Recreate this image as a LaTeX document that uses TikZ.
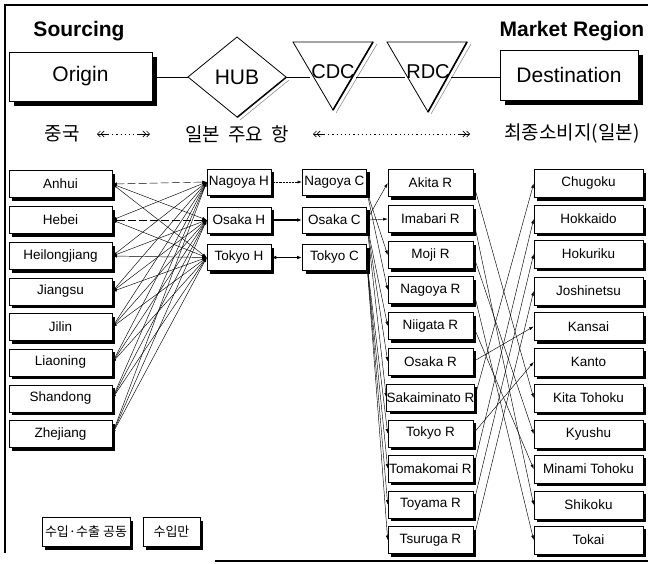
\documentclass[tikz,border=0pt]{standalone}
\usepackage{fontspec}
\setmainfont{Liberation Sans}
\newfontfamily\kr{Noto Sans CJK KR}
\usetikzlibrary{arrows.meta,shadows,calc}
\tikzset{dbarb/.tip={Straight Barb[length=3pt,width=6pt] Straight Barb[length=3pt,width=6pt]}}
\begin{document}
\begin{tikzpicture}[x=1pt,y=-1pt,
  box/.style={draw, fill=white, line width=0.6pt, inner sep=0pt, minimum height=27pt,
    font=\fontsize{13.5}{15}\selectfont,
    drop shadow={shadow xshift=3pt, shadow yshift=-3pt, fill=black, opacity=1}},
  bigbox/.style={draw, fill=white, line width=0.8pt, inner sep=0pt,
    font=\fontsize{21}{24}\selectfont,
    drop shadow={shadow xshift=4.5pt, shadow yshift=-4.5pt, fill=black, opacity=1}},
  obox/.style={box, minimum width=103pt},
  hbox/.style={box, minimum width=64pt, minimum height=26pt},
  rbox/.style={box, minimum width=85pt},
  dbox/.style={box, minimum width=109pt, minimum height=28pt},
  lbox/.style={box, minimum height=29pt, font=\kr\fontsize{13}{15}\selectfont},
  title/.style={font=\bfseries\fontsize{21}{24}\selectfont},
  krtext/.style={font=\kr\fontsize{19}{22}\selectfont},
  link/.style={line width=0.45pt, {Latex[length=4.5pt,width=3pt]}-{Latex[length=4.5pt,width=3pt]}},
  flow/.style={line width=0.45pt, -{Latex[length=4.5pt,width=3pt]}},
]
\useasboundingbox (0,0) rectangle (648,563);
% frame
\draw[line width=1.4pt] (5,553) -- (5,5) -- (648,5);
\draw[line width=1.4pt] (215,561) -- (648,561);

% titles
\node[title] (src) at (79,31) {Sourcing};
\node[title] (mkt) at (572,31) {Market Region};

% top chain
\node[bigbox, minimum width=143pt, minimum height=49pt] (origin) at (80.5,76.5) {Origin};
\node[bigbox, minimum width=138pt, minimum height=50pt] (dest) at (569,75) {Destination};
\coordinate (hubL) at (188,77);
\coordinate (hubR) at (286,77);
\draw[line width=2.2pt] (hubR) -- (237,117);
\draw[gray, line width=0.5pt] (289,80) -- (240,120);
\draw[line width=0.8pt, fill=white] (hubL) -- (237,37) -- (hubR) -- (237,117) -- cycle;
\node[font=\fontsize{21}{24}\selectfont] (hub) at (237,77) {HUB};
% CDC triangle
\draw[gray, line width=0.5pt] (377,44) -- (336,113);
\draw[line width=0.8pt] (293,42) -- (373,42) -- (333,110) -- cycle;
\draw[line width=1.6pt] (373,42) -- (333,110);
\node[font=\fontsize{20}{24}\selectfont, inner sep=1pt] (cdc) at (333,72) {CDC};
% RDC triangle
\draw[gray, line width=0.5pt] (471,44) -- (431,114);
\draw[line width=0.8pt] (387,42) -- (467,42) -- (428,112) -- cycle;
\draw[line width=1.6pt] (467,42) -- (428,112);
\node[font=\fontsize{20}{24}\selectfont, inner sep=1pt] (rdc) at (428,72) {RDC};
\draw[line width=0.8pt] (origin.east |- hubL) -- (hubL);
\draw[line width=0.8pt] (hubR) -- (cdc.west |- hubR);
\draw[line width=0.8pt] (cdc.east |- hubR) -- (rdc.west |- hubR);
\draw[line width=0.8pt] (rdc.east |- hubR) -- (dest.west |- hubR);

% korean row
\node[krtext] (cn) at (62,134) {중국};
\node[krtext] (jp) at (237,134) {일본\hspace{8pt}주요\hspace{8pt}항};
\node[krtext] (fin) at (572,134) {최종소비지(일본)};
\coordinate (a1) at (97,134); \coordinate (a2) at (150,134);
\draw[line width=0.7pt, dash pattern=on 1.2pt off 3pt] ($(a1)+(11,0)$) -- ($(a2)+(-11,0)$);
\draw[line width=0.6pt, {dbarb}-] (a1) -- ($(a1)+(11,0)$);
\draw[line width=0.6pt, -{dbarb}] ($(a2)+(-11,0)$) -- (a2);
\coordinate (b1) at (313,134); \coordinate (b2) at (470,134);
\draw[line width=0.7pt, dash pattern=on 1.2pt off 3pt] ($(b1)+(11,0)$) -- ($(b2)+(-11,0)$);
\draw[line width=0.6pt, {dbarb}-] (b1) -- ($(b1)+(11,0)$);
\draw[line width=0.6pt, -{dbarb}] ($(b2)+(-11,0)$) -- (b2);

% origins
\node[obox] (anh) at (60.5,184) {Anhui};
\node[obox] (heb) at (60.5,220) {Hebei};
\node[obox] (hei) at (60.5,256) {Heilongjiang};
\node[obox] (jia) at (60.5,291.5) {Jiangsu};
\node[obox] (jil) at (60.5,327) {Jilin};
\node[obox] (lia) at (60.5,362.5) {Liaoning};
\node[obox] (sha) at (60.5,398.5) {Shandong};
\node[obox] (zhe) at (60.5,434) {Zhejiang};

% hubs
\node[hbox] (nH) at (239,182) {Nagoya H};
\node[hbox] (oH) at (239,220) {Osaka H};
\node[hbox] (tH) at (239,257.5) {Tokyo H};
% CDCs
\node[hbox] (nC) at (334.5,182) {Nagoya C};
\node[hbox] (oC) at (334.5,220) {Osaka C};
\node[hbox] (tC) at (334.5,257.5) {Tokyo C};

% RDCs
\node[rbox] (akR) at (430.5,183) {Akita R};
\node[rbox] (imR) at (430.5,219) {Imabari R};
\node[rbox] (moR) at (430.5,255) {Moji R};
\node[rbox] (naR) at (430.5,290) {Nagoya R};
\node[rbox] (niR) at (430.5,326) {Niigata R};
\node[rbox] (osR) at (430.5,361.5) {Osaka R};
\node[rbox] (saR) at (430.5,397.5) {Sakaiminato R};
\node[rbox] (toR) at (430.5,433.5) {Tokyo R};
\node[rbox] (tmR) at (430.5,468.5) {Tomakomai R};
\node[rbox] (tyR) at (430.5,504.5) {Toyama R};
\node[rbox] (tsR) at (430.5,540) {Tsuruga R};

% destinations
\node[dbox] (chu) at (588.5,183.5) {Chugoku};
\node[dbox] (hok) at (588.5,219) {Hokkaido};
\node[dbox] (hku) at (588.5,254) {Hokuriku};
\node[dbox] (jos) at (588.5,291) {Joshinetsu};
\node[dbox] (kns) at (588.5,326.5) {Kansai};
\node[dbox] (knt) at (588.5,362) {Kanto};
\node[dbox] (kit) at (588.5,398) {Kita Tohoku};
\node[dbox] (kyu) at (588.5,434) {Kyushu};
\node[dbox] (min) at (588.5,469) {Minami Tohoku};
\node[dbox] (shi) at (588.5,505) {Shikoku};
\node[dbox] (tok) at (588.5,540) {Tokai};

% legend
\node[lbox, minimum width=88pt] (leg1) at (86,532) {수입·수출 공동};
\node[lbox, minimum width=57pt] (leg2) at (171.5,532) {수입만};

% origin <-> hub
\draw[link, dash pattern=on 8pt off 3pt] (anh.east) -- (nH.west);
\draw[link] (anh.east) -- (oH.west);
\draw[link] (anh.east) -- (tH.west);
\draw[link] (heb.east) -- (nH.west);
\draw[link, dash pattern=on 8pt off 3pt] (heb.east) -- (oH.west);
\draw[link] (heb.east) -- (tH.west);
\foreach \o in {hei,jia,jil,lia,sha,zhe}{
  \foreach \h in {nH,oH,tH}{
    \draw[link] (\o.east) -- (\h.west);
  }
}

% hub -> cdc
\draw[flow, densely dotted, line width=0.8pt] (nH.east) -- (nC.west);
\draw[line width=1.1pt, -{Latex[length=5pt,width=3.5pt]}] (oH.east) -- (oC.west);
\draw[line width=1.1pt, {Latex[length=5pt,width=3.5pt]}-{Latex[length=5pt,width=3.5pt]}] (tH.east) -- (tC.west);

% cdc -> rdc
\coordinate (nCo) at ($(nC.east)!0.7!(nC.south east)$);
\coordinate (oCo) at ($(oC.east)!0.3!(oC.south east)$);
\coordinate (tCo) at ($(tC.east)!0.3!(tC.south east)$);
\draw[flow] (nCo) -- (moR.west);
\draw[flow] (nCo) -- (naR.west);
\draw[flow] (oC.east) -- (akR.west);
\draw[flow] (oC.east) -- (imR.west);
\draw[flow] (oCo) -- (niR.west);
\draw[flow] (oCo) -- (osR.west);
\draw[flow] (oCo) -- (saR.west);
\draw[flow] (tCo) -- (toR.west);
\draw[flow] (tCo) -- (tmR.west);
\draw[flow] (tCo) -- (tyR.west);
\draw[flow] (tCo) -- (tsR.west);

% rdc -> destination
\draw[flow] (akR.east) -- (kit.west);
\draw[flow] (imR.east) -- (shi.west);
\draw[flow] (moR.east) -- (kyu.west);
\draw[flow] (naR.east) -- (tok.west);
\draw[flow] (niR.east) -- (min.west);
\draw[flow] (osR.east) -- (kns.west);
\draw[flow] (saR.east) -- (chu.west);
\draw[flow] (toR.east) -- (knt.west);
\draw[flow] (tmR.east) -- (hok.west);
\draw[flow] (tyR.east) -- (hku.west);
\draw[flow] (tsR.east) -- (jos.west);
\end{tikzpicture}
\end{document}
